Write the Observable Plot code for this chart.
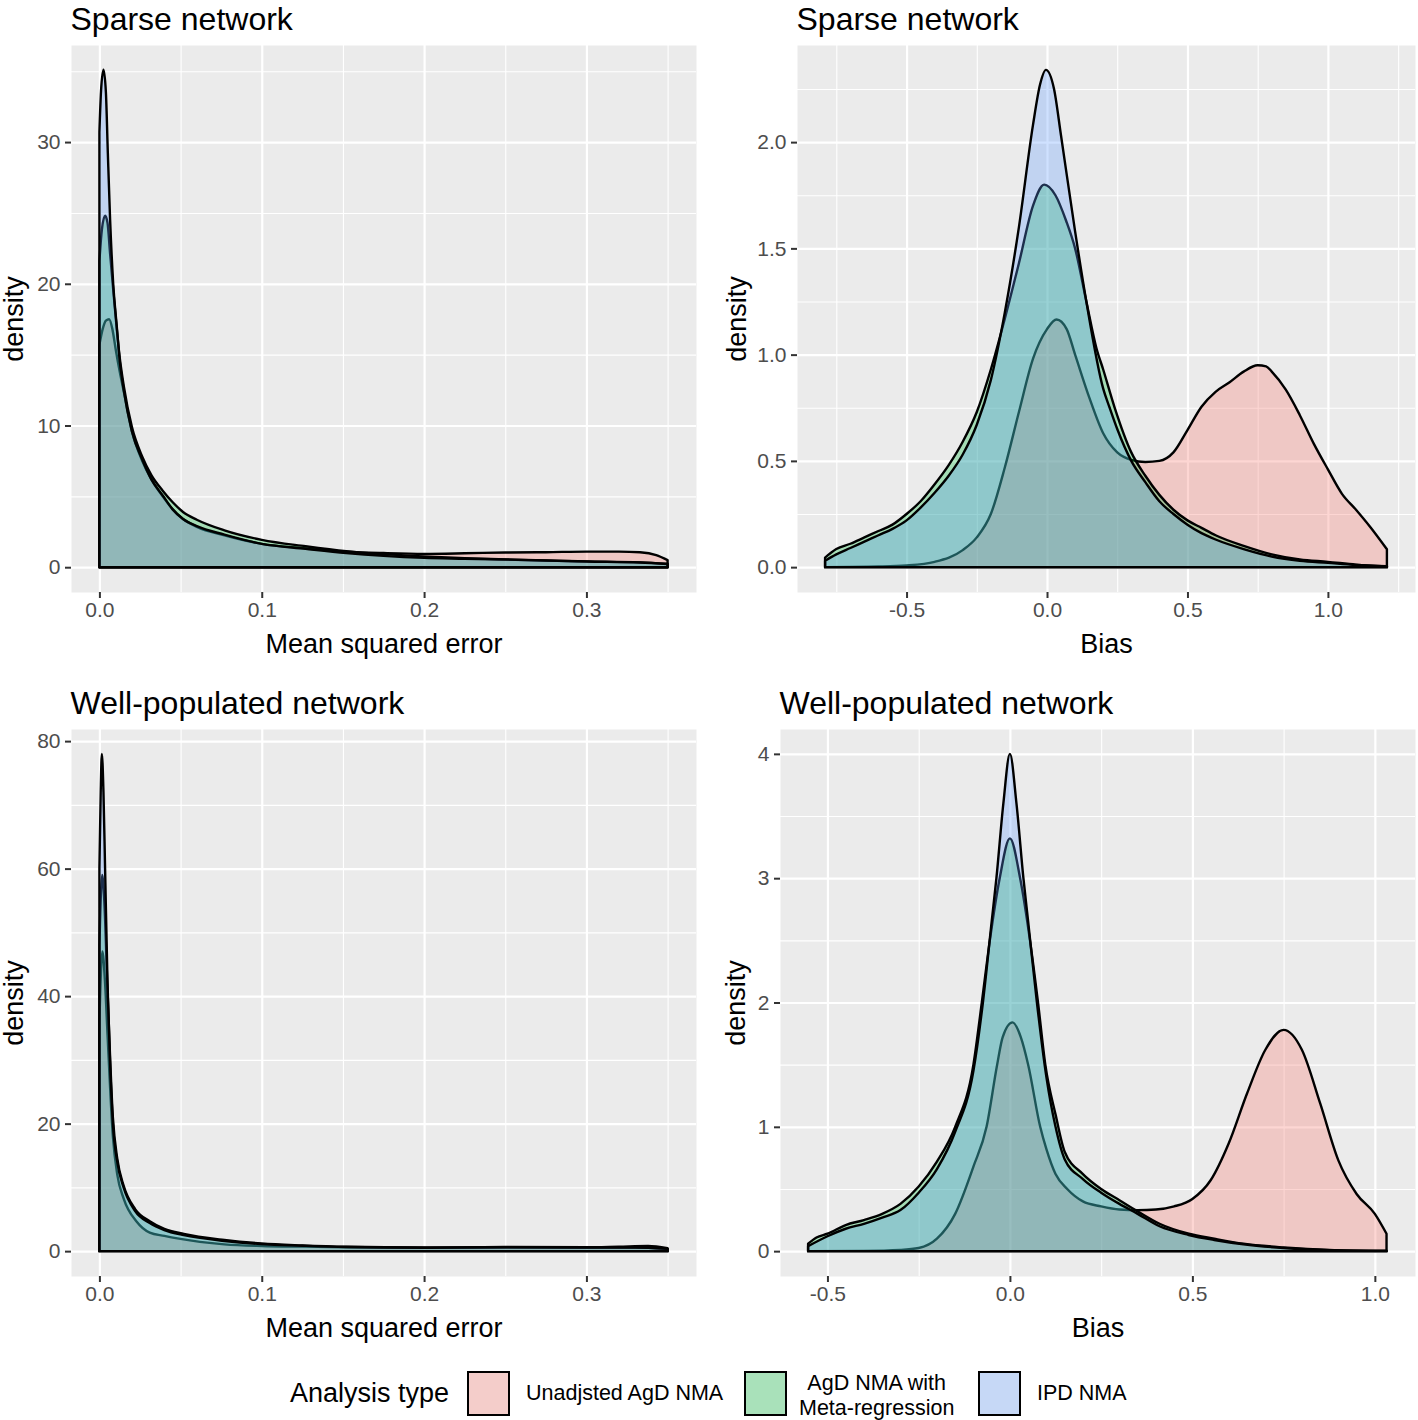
<!DOCTYPE html>
<html>
<head>
<meta charset="utf-8">
<script src="https://cdn.jsdelivr.net/npm/d3@7"></script>
<script src="https://cdn.jsdelivr.net/npm/@observablehq/plot@0.6"></script>
<style>
  body { margin: 0; background: #ffffff; }
  #root { position: relative; width: 1418px; height: 1420px; background: #ffffff;
          font-family: "Liberation Sans", Arial, Helvetica, sans-serif; overflow: hidden; }
  .panel { position: absolute; }
  .panel svg { overflow: visible; }
  .lg { position: absolute; color: #000; white-space: nowrap; line-height: 1; }
  .key { position: absolute; box-sizing: border-box; border: 2px solid #000; background: #F2F2F2; }
  .key > div { width: 100%; height: 100%; }
</style>
</head>
<body>
<div id="root"></div>
<script>
// ---------------- series ----------------
const seriesNames = ["Unadjsted AgD NMA", "AgD NMA with Meta-regression", "IPD NMA"];
const seriesColors = ["#F8766D", "#00BA38", "#619CFF"];
const legendTitle = "Analysis type";
const legendLines = [["Unadjsted AgD NMA"], ["AgD NMA with", "Meta-regression"], ["IPD NMA"]];

// ---------------- tick labels ----------------
const mseTicks = [0, 0.1, 0.2, 0.3];
const mseMinor = [0.05, 0.15, 0.25, 0.35];
const biasSparseTicks = [-0.5, 0, 0.5, 1.0];
const biasSparseMinor = [-0.75, -0.25, 0.25, 0.75, 1.25];
const biasWellTicks = [-0.5, 0, 0.5, 1.0];
const biasWellMinor = [-0.25, 0.25, 0.75];
const densSparseMseTicks = [0, 10, 20, 30];
const densSparseMseMinor = [5, 15, 25, 35];
const densSparseBiasTicks = [0, 0.5, 1.0, 1.5, 2.0];
const densSparseBiasMinor = [0.25, 0.75, 1.25, 1.75, 2.25];
const densWellMseTicks = [0, 20, 40, 60, 80];
const densWellMseMinor = [10, 30, 50, 70];
const densWellBiasTicks = [0, 1, 2, 3, 4];
const densWellBiasMinor = [0.5, 1.5, 2.5, 3.5];

// ---------------- density curves [x, density] ----------------
// Sparse network, mean squared error
const mseSparseUnadj = [[0,15.7],[0.002,16.8],[0.004,17.4],[0.006,17.5],[0.008,16.8],[0.01,15.4],[0.0125,13.8],[0.015,12.4],[0.02,9.6],[0.0264,7.5],[0.032,6.2],[0.039,5.0],[0.045,4.1],[0.0515,3.4],[0.06,2.85],[0.077,2.25],[0.1,1.65],[0.127,1.33],[0.152,1.1],[0.175,1.0],[0.2,0.94],[0.225,0.98],[0.25,1.04],[0.275,1.06],[0.3,1.1],[0.32,1.1],[0.333,1.05],[0.343,0.85],[0.35,0.5]];
const mseSparseMetareg = [[0,21.6],[0.0015,23.8],[0.0035,24.8],[0.005,24.3],[0.0066,22.1],[0.0085,19.6],[0.0103,17.3],[0.0125,14.8],[0.015,12.8],[0.02,9.9],[0.0264,7.8],[0.032,6.5],[0.039,5.4],[0.045,4.6],[0.0515,3.9],[0.06,3.35],[0.077,2.6],[0.1,1.93],[0.127,1.48],[0.152,1.13],[0.175,0.92],[0.2,0.76],[0.225,0.64],[0.25,0.55],[0.275,0.47],[0.3,0.41],[0.333,0.34],[0.35,0.24]];
const mseSparseIpd = [[0,30.7],[0.001,33.6],[0.0025,35.1],[0.004,33.5],[0.0052,29.2],[0.0066,24.5],[0.0085,20.0],[0.0107,17.0],[0.0125,14.6],[0.015,12.5],[0.02,9.6],[0.0264,7.6],[0.032,6.2],[0.039,5.06],[0.045,4.1],[0.0515,3.4],[0.06,2.9],[0.077,2.3],[0.1,1.65],[0.127,1.3],[0.152,1.0],[0.175,0.8],[0.2,0.66],[0.225,0.6],[0.25,0.54],[0.275,0.47],[0.3,0.4],[0.333,0.33],[0.35,0.22]];

// Sparse network, bias
const biasSparseUnadj = [[-0.79,0.0],[-0.6,0.003],[-0.5,0.008],[-0.4,0.025],[-0.3,0.08],[-0.25,0.14],[-0.2,0.25],[-0.15,0.47],[-0.1,0.73],[-0.05,0.98],[0,1.12],[0.034,1.165],[0.07,1.12],[0.1,1.0],[0.15,0.8],[0.2,0.63],[0.25,0.54],[0.3,0.505],[0.35,0.495],[0.4,0.5],[0.45,0.54],[0.5,0.645],[0.55,0.755],[0.6,0.825],[0.65,0.87],[0.7,0.92],[0.75,0.95],[0.78,0.945],[0.8,0.92],[0.85,0.835],[0.9,0.715],[0.95,0.58],[1.0,0.46],[1.05,0.345],[1.1,0.27],[1.15,0.19],[1.21,0.084]];
const biasSparseMetareg = [[-0.79,0.045],[-0.75,0.085],[-0.7,0.11],[-0.65,0.14],[-0.6,0.17],[-0.55,0.2],[-0.5,0.25],[-0.45,0.31],[-0.4,0.39],[-0.35,0.48],[-0.3,0.59],[-0.25,0.73],[-0.2,0.93],[-0.15,1.17],[-0.1,1.43],[-0.05,1.7],[-0.01,1.8],[0.03,1.75],[0.068,1.63],[0.1,1.5],[0.14,1.25],[0.176,1.03],[0.2,0.93],[0.241,0.75],[0.3,0.54],[0.35,0.43],[0.4,0.34],[0.45,0.27],[0.5,0.22],[0.55,0.185],[0.6,0.15],[0.7,0.1],[0.8,0.06],[0.9,0.036],[1.0,0.025],[1.1,0.012],[1.21,0.004]];
const biasSparseIpd = [[-0.79,0.03],[-0.75,0.06],[-0.7,0.09],[-0.65,0.12],[-0.6,0.15],[-0.55,0.18],[-0.5,0.22],[-0.45,0.28],[-0.4,0.35],[-0.35,0.43],[-0.3,0.53],[-0.25,0.67],[-0.2,0.88],[-0.15,1.2],[-0.1,1.6],[-0.05,2.08],[-0.025,2.27],[-0.004,2.34],[0.025,2.25],[0.05,2.03],[0.1,1.58],[0.14,1.25],[0.2,0.84],[0.223,0.75],[0.25,0.65],[0.3,0.5],[0.35,0.4],[0.4,0.31],[0.45,0.25],[0.5,0.2],[0.55,0.16],[0.6,0.13],[0.7,0.085],[0.8,0.05],[0.9,0.03],[1.0,0.02],[1.1,0.01],[1.21,0.003]];

// Well-populated network, mean squared error
const mseWellUnadj = [[0,36],[0.0018,47],[0.0035,42],[0.005,34],[0.0083,18],[0.011,12],[0.015,8.2],[0.023,4.6],[0.031,2.9],[0.04,2.4],[0.048,2.0],[0.077,1.06],[0.1,0.8],[0.125,0.7],[0.152,0.62],[0.2,0.55],[0.25,0.64],[0.3,0.6],[0.32,0.7],[0.338,0.8],[0.35,0.45]];
const mseWellMetareg = [[0,48],[0.0017,59],[0.003,55],[0.005,41],[0.0083,21],[0.011,14.5],[0.015,10.2],[0.022,6.6],[0.031,4.7],[0.04,3.5],[0.052,2.7],[0.077,1.75],[0.1,1.2],[0.125,0.9],[0.152,0.68],[0.2,0.55],[0.25,0.62],[0.3,0.57],[0.33,0.58],[0.35,0.35]];
const mseWellIpd = [[0,60],[0.0008,72],[0.0015,78],[0.0025,72],[0.0035,60],[0.005,42],[0.0065,30],[0.0083,20],[0.011,14],[0.015,9.9],[0.022,6.3],[0.031,4.4],[0.04,3.3],[0.052,2.5],[0.077,1.6],[0.1,1.1],[0.125,0.85],[0.152,0.64],[0.2,0.52],[0.25,0.6],[0.3,0.55],[0.33,0.55],[0.35,0.35]];

// Well-populated network, bias
const biasWellUnadj = [[-0.553,0.0],[-0.4,0.002],[-0.3,0.01],[-0.25,0.025],[-0.2,0.1],[-0.15,0.3],[-0.1,0.68],[-0.064,1.0],[-0.035,1.5],[-0.02,1.72],[0.007,1.84],[0.03,1.72],[0.05,1.5],[0.083,1.0],[0.1,0.82],[0.125,0.62],[0.157,0.5],[0.2,0.4],[0.25,0.36],[0.3,0.335],[0.35,0.33],[0.4,0.335],[0.45,0.36],[0.5,0.42],[0.55,0.57],[0.6,0.87],[0.65,1.27],[0.7,1.62],[0.75,1.78],[0.8,1.62],[0.85,1.19],[0.9,0.73],[0.95,0.46],[1.0,0.3],[1.032,0.14]];
const biasWellMetareg = [[-0.553,0.06],[-0.53,0.11],[-0.5,0.14],[-0.45,0.21],[-0.4,0.25],[-0.35,0.3],[-0.3,0.38],[-0.25,0.52],[-0.2,0.72],[-0.15,1.0],[-0.1,1.5],[-0.077,2.0],[-0.055,2.5],[-0.028,3.0],[0,3.32],[0.028,3.0],[0.055,2.5],[0.077,2.0],[0.097,1.5],[0.125,1.1],[0.15,0.8],[0.2,0.62],[0.25,0.5],[0.3,0.41],[0.35,0.32],[0.41,0.22],[0.49,0.14],[0.56,0.1],[0.64,0.06],[0.75,0.03],[0.875,0.01],[1.032,0.003]];
const biasWellIpd = [[-0.553,0.04],[-0.5,0.12],[-0.45,0.18],[-0.4,0.22],[-0.35,0.27],[-0.3,0.33],[-0.25,0.47],[-0.2,0.66],[-0.15,0.96],[-0.1,1.45],[-0.074,2.0],[-0.05,2.65],[-0.037,3.0],[-0.018,3.6],[0,4.0],[0.018,3.6],[0.037,3.0],[0.05,2.65],[0.074,2.0],[0.1,1.4],[0.125,1.0],[0.15,0.74],[0.2,0.58],[0.25,0.47],[0.3,0.38],[0.35,0.3],[0.41,0.2],[0.49,0.13],[0.56,0.09],[0.64,0.055],[0.75,0.025],[0.875,0.008],[1.032,0.002]];

// ---------------- panel text ----------------
const panelTitles = ["Sparse network", "Sparse network", "Well-populated network", "Well-populated network"];
const xLabels = ["Mean squared error", "Bias", "Mean squared error", "Bias"];
const yLabel = "density";

const fmt1 = d => d.toFixed(1);
const fmt0 = d => String(d);

const panels = [
  {title: panelTitles[0], xLabel: xLabels[0], curves: [mseSparseUnadj, mseSparseMetareg, mseSparseIpd],
   xDomain: [-0.0175, 0.3675], yDomain: [-1.75, 36.85], xTicks: mseTicks, xMinor: mseMinor,
   yTicks: densSparseMseTicks, yMinor: densSparseMseMinor, xFmt: fmt1, yFmt: fmt0,
   left: 0, top: 0, marginLeft: 71, marginRight: 13, ylabDx: -57},
  {title: panelTitles[1], xLabel: xLabels[1], curves: [biasSparseUnadj, biasSparseMetareg, biasSparseIpd],
   xDomain: [-0.89, 1.31], yDomain: [-0.117, 2.457], xTicks: biasSparseTicks, xMinor: biasSparseMinor,
   yTicks: densSparseBiasTicks, yMinor: densSparseBiasMinor, xFmt: fmt1, yFmt: fmt1,
   left: 709, top: 0, marginLeft: 88, marginRight: 3, ylabDx: -60},
  {title: panelTitles[2], xLabel: xLabels[2], curves: [mseWellUnadj, mseWellMetareg, mseWellIpd],
   xDomain: [-0.0175, 0.3675], yDomain: [-3.9, 81.9], xTicks: mseTicks, xMinor: mseMinor,
   yTicks: densWellMseTicks, yMinor: densWellMseMinor, xFmt: fmt1, yFmt: fmt0,
   left: 0, top: 684, marginLeft: 71, marginRight: 13, ylabDx: -57},
  {title: panelTitles[3], xLabel: xLabels[3], curves: [biasWellUnadj, biasWellMetareg, biasWellIpd],
   xDomain: [-0.63, 1.11], yDomain: [-0.2, 4.2], xTicks: biasWellTicks, xMinor: biasWellMinor,
   yTicks: densWellBiasTicks, yMinor: densWellBiasMinor, xFmt: fmt1, yFmt: fmt0,
   left: 709, top: 684, marginLeft: 71, marginRight: 3, ylabDx: -44}
];

const FONT = '"Liberation Sans", Arial, Helvetica, sans-serif';

function makePlot(p) {
  const marks = [
    Plot.frame({fill: "#EBEBEB", stroke: "none"}),
    Plot.gridX(p.xMinor, {stroke: "#FFFFFF", strokeOpacity: 1, strokeWidth: 1.1}),
    Plot.gridY(p.yMinor, {stroke: "#FFFFFF", strokeOpacity: 1, strokeWidth: 1.1}),
    Plot.gridX(p.xTicks, {stroke: "#FFFFFF", strokeOpacity: 1, strokeWidth: 2.2}),
    Plot.gridY(p.yTicks, {stroke: "#FFFFFF", strokeOpacity: 1, strokeWidth: 2.2})
  ];
  p.curves.forEach((c, i) => {
    const rows = c.map(([x, y]) => ({x, y, series: seriesNames[i]}));
    marks.push(Plot.areaY(rows, {
      x: "x", y: "y", fill: "series", fillOpacity: 0.3,
      stroke: "#000000", strokeWidth: 2.4, strokeLinejoin: "round",
      curve: "monotone-x"
    }));
  });
  marks.push(
    Plot.axisX(p.xTicks, {tickFormat: p.xFmt, tickSize: 6, tickPadding: 4, fontSize: 21,
      fill: "#4D4D4D", stroke: "#333333", strokeWidth: 2, label: null}),
    Plot.axisY(p.yTicks, {tickFormat: p.yFmt, tickSize: 6, tickPadding: 5, fontSize: 21,
      fill: "#4D4D4D", stroke: "#333333", strokeWidth: 2, label: null}),
    Plot.text([p.title], {frameAnchor: "top-left", textAnchor: "start", lineAnchor: "bottom",
      dx: -1, dy: -16, fontSize: 32, fill: "#000000"}),
    Plot.text([p.xLabel], {frameAnchor: "bottom", lineAnchor: "bottom", dy: 60,
      fontSize: 27, fill: "#000000"}),
    Plot.text([yLabel], {frameAnchor: "left", rotate: -90, lineAnchor: "middle", textAnchor: "middle",
      dx: p.ylabDx, fontSize: 27, fill: "#000000"})
  );
  return Plot.plot({
    width: 709, height: 670,
    marginTop: 45, marginBottom: 78,
    marginLeft: p.marginLeft, marginRight: p.marginRight,
    x: {type: "linear", domain: p.xDomain},
    y: {type: "linear", domain: p.yDomain},
    color: {domain: seriesNames, range: seriesColors},
    style: {fontFamily: FONT, fontSize: "21px", background: "transparent", overflow: "visible"},
    marks
  });
}

const root = document.getElementById("root");
panels.forEach(p => {
  const div = document.createElement("div");
  div.className = "panel";
  div.style.left = p.left + "px";
  div.style.top = p.top + "px";
  div.style.width = "709px";
  div.appendChild(makePlot(p));
  root.appendChild(div);
});

// ---------------- legend ----------------
function addText(text, left, top, size, align) {
  const d = document.createElement("div");
  d.className = "lg";
  d.textContent = text;
  d.style.left = left + "px";
  d.style.top = top + "px";
  d.style.fontSize = size + "px";
  if (align) d.style.textAlign = align;
  root.appendChild(d);
  return d;
}
addText(legendTitle, 290, 1380, 27);
const keyLefts = [467, 744, 978];
const labelLefts = [526, 799, 1037];
seriesColors.forEach((c, i) => {
  const k = document.createElement("div");
  k.className = "key";
  k.style.left = keyLefts[i] + "px";
  k.style.top = 1371 + "px";
  k.style.width = "43px";
  k.style.height = "45px";
  const inner = document.createElement("div");
  const col = d3.color(c); col.opacity = 0.3;
  inner.style.background = col.formatRgb();
  k.appendChild(inner);
  root.appendChild(k);
  const lines = legendLines[i];
  if (lines.length === 1) {
    addText(lines[0], labelLefts[i], 1383, 21.5);
  } else {
    const d = addText("", labelLefts[i], 1371, 21.5, "center");
    d.style.lineHeight = "1.15";
    lines.forEach(ln => {
      const s = document.createElement("div");
      s.textContent = ln;
      d.appendChild(s);
    });
  }
});
</script>
</body>
</html>
